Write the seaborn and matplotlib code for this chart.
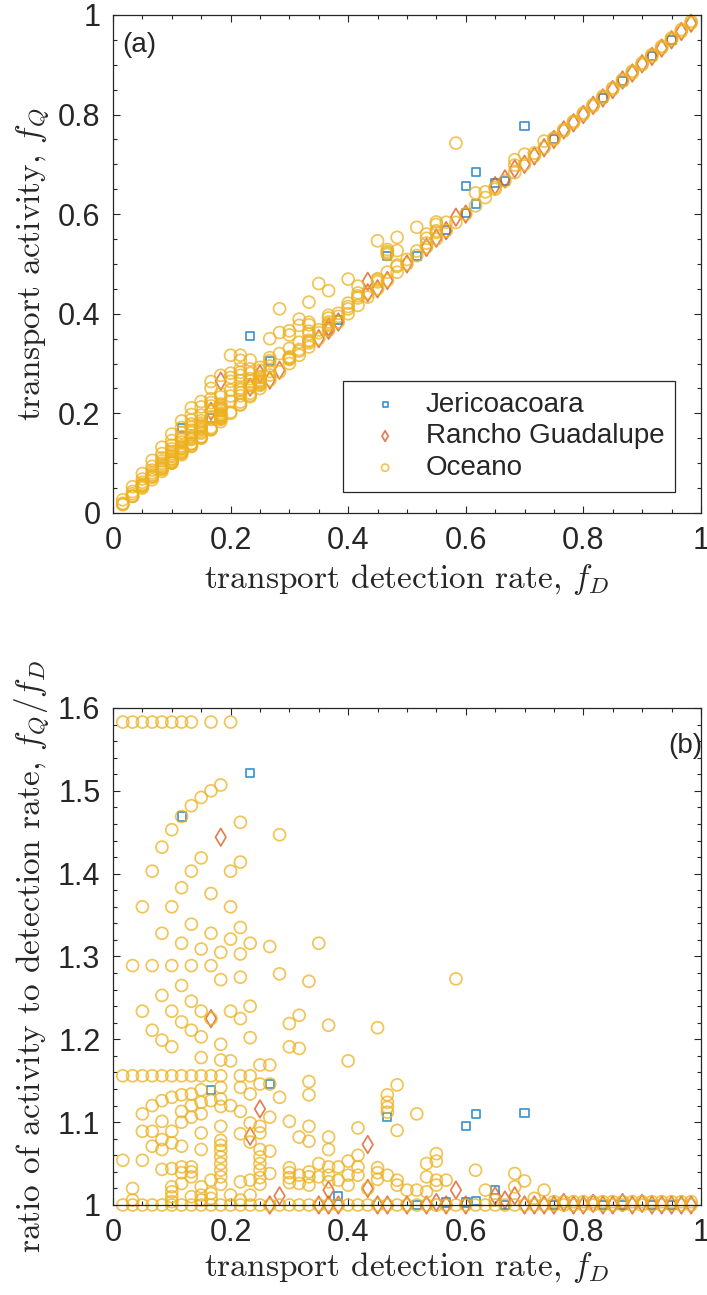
import numpy as np
import pandas as pd
import matplotlib
matplotlib.use("Agg")
import matplotlib.pyplot as plt
from matplotlib.ticker import MultipleLocator, FuncFormatter
import seaborn as sns

# detection rate f_D and ratio f_Q/f_D
je_fd = [0.1167, 0.1667, 0.2333, 0.2667, 0.3833, 0.4667, 0.5167, 0.5667, 0.6, 0.6,
         0.6167, 0.6167, 0.65, 0.6667, 0.7, 0.75, 0.8333, 0.8667, 0.9167, 0.95]
je_ratio = [1.469, 1.139, 1.522, 1.146, 1.011, 1.106, 1.0, 1.003, 1.095, 1.003,
            1.110, 1.005, 1.018, 1.0, 1.111, 1.0, 1.0, 1.0, 1.0, 1.0]

rg_fd = [0.1667, 0.1833, 0.2333, 0.25, 0.2667, 0.2833, 0.35, 0.3667, 0.3667, 0.3833,
         0.4333, 0.4333, 0.45, 0.4667, 0.5, 0.5333, 0.55, 0.5667, 0.5833, 0.6,
         0.65, 0.6667, 0.6833, 0.7, 0.7167, 0.7333, 0.75, 0.7667, 0.7833, 0.8,
         0.8167, 0.8333, 0.85, 0.8667, 0.8833, 0.9, 0.9167, 0.9333, 0.95, 0.9667,
         0.9833]
rg_ratio = [1.225, 1.444, 1.083, 1.116, 1.0, 1.011, 1.0, 1.018, 1.0, 1.0,
            1.073, 1.020, 1.0, 1.0, 1.0, 1.0, 1.003, 1.0, 1.018, 1.0,
            1.011, 1.006, 1.011, 1.0, 1.0, 1.0, 1.0, 1.003, 1.0, 1.0,
            1.002, 1.0, 1.0, 1.003, 1.0, 1.002, 1.0, 1.0, 1.0, 1.0,
            1.0]

oc_fd = [
    0.0167, 0.0167, 0.0167, 0.0167,
    0.0333, 0.0333, 0.0333, 0.0333, 0.0333, 0.0333,
    0.05, 0.05, 0.05, 0.05, 0.05, 0.05, 0.05, 0.05,
    0.0667, 0.0667, 0.0667, 0.0667, 0.0667, 0.0667, 0.0667, 0.0667, 0.0667,
    0.0833, 0.0833, 0.0833, 0.0833, 0.0833, 0.0833, 0.0833, 0.0833, 0.0833, 0.0833, 0.0833, 0.0833,
    0.1, 0.1, 0.1, 0.1, 0.1, 0.1, 0.1, 0.1, 0.1, 0.1, 0.1, 0.1, 0.1, 0.1, 0.1, 0.1,
    0.1167, 0.1167, 0.1167, 0.1167, 0.1167, 0.1167, 0.1167, 0.1167, 0.1167, 0.1167, 0.1167, 0.1167, 0.1167, 0.1167, 0.1167,
    0.1333, 0.1333, 0.1333, 0.1333, 0.1333, 0.1333, 0.1333, 0.1333, 0.1333, 0.1333, 0.1333, 0.1333, 0.1333, 0.1333, 0.1333, 0.1333,
    0.15, 0.15, 0.15, 0.15, 0.15, 0.15, 0.15, 0.15, 0.15, 0.15, 0.15, 0.15, 0.15, 0.15, 0.15, 0.15,
    0.1667, 0.1667, 0.1667, 0.1667, 0.1667, 0.1667, 0.1667, 0.1667, 0.1667, 0.1667, 0.1667, 0.1667,
    0.1833, 0.1833, 0.1833, 0.1833, 0.1833, 0.1833, 0.1833, 0.1833, 0.1833, 0.1833, 0.1833, 0.1833, 0.1833, 0.1833, 0.1833, 0.1833, 0.1833, 0.1833, 0.1833,
    0.2, 0.2, 0.2, 0.2, 0.2, 0.2, 0.2, 0.2, 0.2,
    0.2167, 0.2167, 0.2167, 0.2167, 0.2167, 0.2167, 0.2167, 0.2167, 0.2167, 0.2167, 0.2167, 0.2167, 0.2167,
    0.2333, 0.2333, 0.2333, 0.2333, 0.2333, 0.2333, 0.2333, 0.2333, 0.2333, 0.2333,
    0.25, 0.25, 0.25, 0.25, 0.25, 0.25, 0.25, 0.25, 0.25, 0.25, 0.25,
    0.2667, 0.2667, 0.2667, 0.2667, 0.2667, 0.2667, 0.2667,
    0.2833, 0.2833, 0.2833, 0.2833,
    0.3, 0.3, 0.3, 0.3, 0.3, 0.3, 0.3, 0.3,
    0.3167, 0.3167, 0.3167, 0.3167, 0.3167, 0.3167,
    0.3333, 0.3333, 0.3333, 0.3333, 0.3333, 0.3333, 0.3333, 0.3333, 0.3333,
    0.35, 0.35, 0.35, 0.35,
    0.3667, 0.3667, 0.3667, 0.3667, 0.3667, 0.3667, 0.3667,
    0.3833, 0.3833, 0.3833,
    0.4, 0.4, 0.4, 0.4, 0.4,
    0.4167, 0.4167, 0.4167, 0.4167, 0.4167,
    0.4333, 0.4333,
    0.45, 0.45, 0.45, 0.45, 0.45,
    0.4667, 0.4667, 0.4667, 0.4667, 0.4667, 0.4667,
    0.4833, 0.4833, 0.4833, 0.4833, 0.4833,
    0.5, 0.5,
    0.5167, 0.5167, 0.5167,
    0.5333, 0.5333, 0.5333, 0.5333,
    0.55, 0.55, 0.55, 0.55, 0.55,
    0.5667, 0.5667,
    0.5833, 0.5833,
    0.6,
    0.6167, 0.6167,
    0.6333, 0.6333,
    0.65, 0.65,
    0.6667,
    0.6833, 0.6833, 0.6833,
    0.7, 0.7,
    0.7167, 0.7167,
    0.7333, 0.7333,
    0.75, 0.75, 0.7667, 0.7667, 0.7833, 0.7833, 0.8, 0.8, 0.8167, 0.8167,
    0.8333, 0.8333, 0.85, 0.85, 0.8667, 0.8667, 0.8833, 0.8833, 0.9, 0.9,
    0.9167, 0.9167, 0.9333, 0.9333, 0.95, 0.95, 0.9667, 0.9667, 0.9833, 0.9833,
]
oc_ratio = [
    1.583, 1.156, 1.054, 1.0,
    1.583, 1.289, 1.156, 1.020, 1.006, 1.0,
    1.583, 1.360, 1.234, 1.156, 1.110, 1.089, 1.054, 1.0,
    1.583, 1.403, 1.289, 1.211, 1.156, 1.120, 1.089, 1.071, 1.0,
    1.583, 1.432, 1.328, 1.253, 1.199, 1.156, 1.126, 1.101, 1.079, 1.067, 1.043, 1.0,
    1.583, 1.453, 1.360, 1.289, 1.234, 1.191, 1.156, 1.130, 1.089, 1.075, 1.044, 1.022, 1.016, 1.010, 1.004, 1.0,
    1.583, 1.469, 1.383, 1.316, 1.265, 1.221, 1.156, 1.133, 1.113, 1.100, 1.071, 1.046, 1.039, 1.026, 1.0,
    1.583, 1.482, 1.403, 1.339, 1.289, 1.246, 1.211, 1.156, 1.134, 1.120, 1.106, 1.046, 1.040, 1.034, 1.010, 1.0,
    1.492, 1.419, 1.309, 1.234, 1.203, 1.178, 1.156, 1.139, 1.124, 1.110, 1.087, 1.067, 1.022, 1.012, 1.006, 1.0,
    1.583, 1.500, 1.376, 1.328, 1.289, 1.225, 1.156, 1.126, 1.030, 1.014, 1.008, 1.0,
    1.507, 1.305, 1.272, 1.194, 1.175, 1.156, 1.142, 1.128, 1.119, 1.095, 1.078, 1.072, 1.066, 1.058, 1.050, 1.042, 1.034, 1.025, 1.0,
    1.583, 1.403, 1.360, 1.321, 1.234, 1.174, 1.120, 1.012, 1.0,
    1.462, 1.414, 1.335, 1.303, 1.275, 1.225, 1.156, 1.142, 1.113, 1.086, 1.028, 1.006, 1.0,
    1.316, 1.240, 1.202, 1.156, 1.134, 1.099, 1.076, 1.030, 1.012, 1.0,
    1.169, 1.146, 1.095, 1.087, 1.067, 1.058, 1.050, 1.042, 1.033, 1.025, 1.0,
    1.312, 1.169, 1.146, 1.106, 1.065, 1.038, 1.0,
    1.447, 1.279, 1.130, 1.0,
    1.219, 1.191, 1.101, 1.045, 1.039, 1.033, 1.027, 1.0,
    1.229, 1.189, 1.082, 1.036, 1.026, 1.0,
    1.270, 1.149, 1.133, 1.095, 1.077, 1.040, 1.034, 1.024, 1.0,
    1.316, 1.050, 1.034, 1.0,
    1.217, 1.082, 1.067, 1.046, 1.036, 1.028, 1.0,
    1.046, 1.030, 1.0,
    1.174, 1.053, 1.036, 1.024, 1.0,
    1.093, 1.060, 1.046, 1.036, 1.0,
    1.020, 1.0,
    1.214, 1.045, 1.039, 1.031, 1.0,
    1.133, 1.124, 1.118, 1.112, 1.036, 1.0,
    1.145, 1.090, 1.030, 1.024, 1.0,
    1.018, 1.0,
    1.110, 1.018, 1.0,
    1.050, 1.034, 1.016, 1.0,
    1.062, 1.053, 1.030, 1.024, 1.0,
    1.030, 1.0,
    1.273, 1.0,
    1.0,
    1.042, 1.0,
    1.018, 1.0,
    1.006, 1.0,
    1.0,
    1.038, 1.022, 1.0,
    1.029, 1.0,
    1.008, 1.0,
    1.018, 1.0,
    1.004, 1.0, 1.004, 1.0, 1.004, 1.0, 1.004, 1.0, 1.004, 1.0,
    1.004, 1.0, 1.004, 1.0, 1.004, 1.0, 1.004, 1.0, 1.004, 1.0,
    1.004, 1.0, 1.004, 1.0, 1.004, 1.0, 1.004, 1.0, 1.004, 1.0,
]

sites = ["Jericoacoara", "Rancho Guadalupe", "Oceano"]
colors = {"Jericoacoara": "#0072BD", "Rancho Guadalupe": "#D95319", "Oceano": "#EDB120"}
markers = {"Jericoacoara": "s", "Rancho Guadalupe": "d", "Oceano": "o"}
sizes = {"Jericoacoara": 34, "Rancho Guadalupe": 80, "Oceano": 74}


def site_frame(fd, ratio, name):
    d = pd.DataFrame({"fD": fd, "ratio": ratio})
    d["fQ"] = d["fD"] * d["ratio"]   # activity = ratio * detection rate
    d["site"] = name
    return d


df = pd.concat([site_frame(je_fd, je_ratio, "Jericoacoara"),
                site_frame(rg_fd, rg_ratio, "Rancho Guadalupe"),
                site_frame(oc_fd, oc_ratio, "Oceano")], ignore_index=True)

sns.set_style("ticks")
plt.rcParams["font.family"] = ["Liberation Sans", "DejaVu Sans"]
plt.rcParams["mathtext.fontset"] = "cm"
plt.rcParams["axes.linewidth"] = 0.9
plt.rcParams["axes.edgecolor"] = "#262626"

fig = plt.figure(figsize=(7.07, 12.95), dpi=100)
ax1 = fig.add_axes([0.1598, 0.6039, 0.8316, 0.3846])
ax2 = fig.add_axes([0.1598, 0.0695, 0.8316, 0.3838])

for ax, ycol in [(ax1, "fQ"), (ax2, "ratio")]:
    for site in sites:
        sub = df[df["site"] == site]
        sns.scatterplot(data=sub, x="fD", y=ycol, marker=markers[site], s=sizes[site],
                        facecolor="none", edgecolor=colors[site], linewidth=1.25,
                        alpha=0.75, label=site if ax is ax1 else None,
                        ax=ax, clip_on=False, legend=False)

tick_size = 22
label_size = 24
fmt = FuncFormatter(lambda v, p: f"{round(v, 2):g}")
for ax in (ax1, ax2):
    ax.set_xlim(0, 1)
    ax.xaxis.set_major_locator(MultipleLocator(0.2))
    ax.xaxis.set_minor_locator(MultipleLocator(0.05))
    ax.xaxis.set_major_formatter(fmt)
    ax.yaxis.set_major_formatter(fmt)
    ax.tick_params(which="both", direction="in", top=True, right=True,
                   labelsize=tick_size, colors="#262626", width=0.8)
    ax.tick_params(axis="x", pad=9.5)
    ax.tick_params(axis="y", pad=9)
    ax.tick_params(which="major", length=5)
    ax.tick_params(which="minor", length=3)

ax1.set_xlabel("transport detection rate, $f_D$", fontsize=label_size, fontfamily="cmr10",
               color="#262626", labelpad=4)
ax2.set_xlabel("transport detection rate, $f_D$", fontsize=label_size, fontfamily="cmr10",
               color="#262626", labelpad=1)

ax1.set_ylim(0, 1)
ax1.yaxis.set_major_locator(MultipleLocator(0.2))
ax1.yaxis.set_minor_locator(MultipleLocator(0.05))
ax1.set_ylabel("transport activity, $f_Q$", fontsize=label_size, fontfamily="cmr10",
               color="#262626", labelpad=5)

ax2.set_ylim(1, 1.6)
ax2.yaxis.set_major_locator(MultipleLocator(0.1))
ax2.yaxis.set_minor_locator(MultipleLocator(0.02))
ax2.set_ylabel("ratio of activity to detection rate, $f_Q/f_D$", fontsize=label_size,
               fontfamily="cmr10", color="#262626", labelpad=5)

ax1.text(0.045, 0.94, "(a)", transform=ax1.transAxes, fontsize=20, ha="center", va="center")
ax2.text(0.973, 0.923, "(b)", transform=ax2.transAxes, fontsize=20, ha="center", va="center")

leg = ax1.legend(loc="lower left", bbox_to_anchor=(0.392, 0.042), fontsize=20,
                 frameon=True, fancybox=False, edgecolor="#262626", framealpha=1,
                 markerscale=0.6, handlelength=2.2, handletextpad=0.36,
                 borderpad=0.4, labelspacing=0.2, borderaxespad=0)
leg.get_frame().set_linewidth(0.9)

fig.savefig("out.png", dpi=100)
